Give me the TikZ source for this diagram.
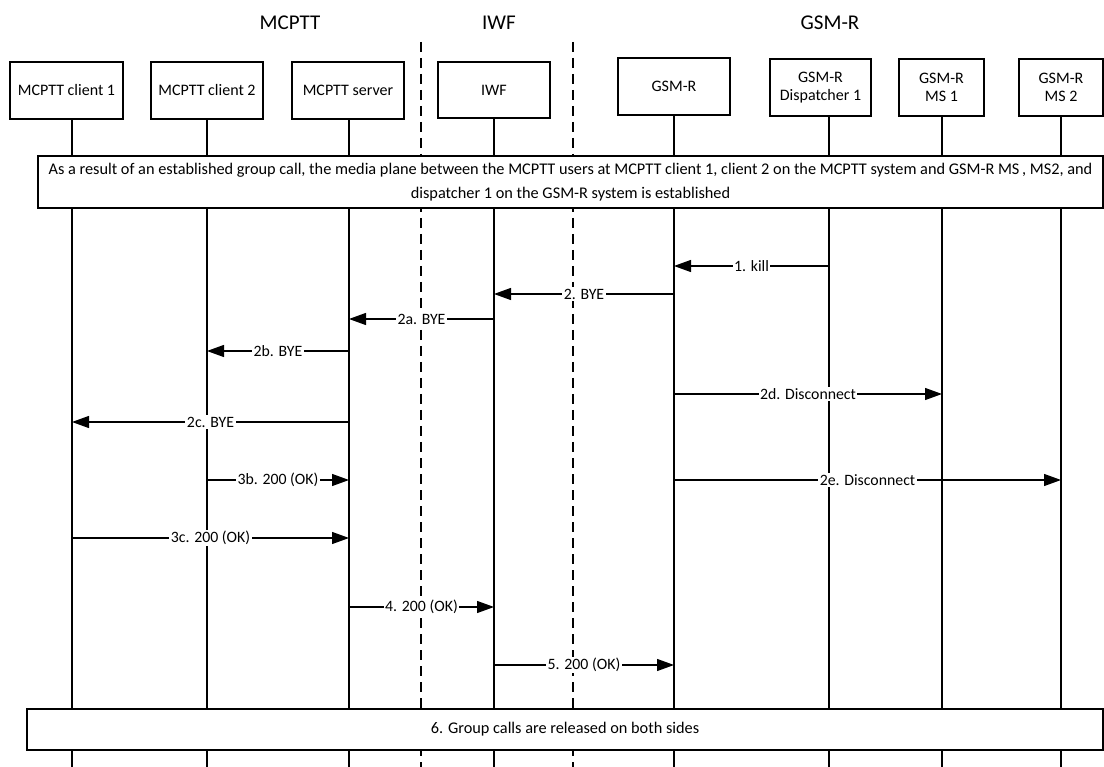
\documentclass[tikz,border=0pt]{standalone}
\usepackage{fontspec}
\setmainfont{Carlito}
\usetikzlibrary{arrows.meta,positioning}

\begin{document}
\begin{tikzpicture}[x=1pt,y=-1pt,line width=1.2pt,
                    main node/.style={rectangle,draw,fill=white,align=center,inner sep=2pt,
                                      font=\fontsize{16}{18}\selectfont},
                    note node/.style={rectangle,draw,fill=white,align=center,inner sep=2pt,
                                      font=\fontsize{16.3}{24}\selectfont},
                    title node/.style={font=\fontsize{21}{24}\selectfont},
                    border/.style={dash pattern=on 10pt off 6pt},
                    msg/.style={-{Triangle[length=17pt,width=12pt]}},
                    msg label/.style={fill=white,inner sep=1.5pt,font=\fontsize{15.8}{17}\selectfont}]

\useasboundingbox (0,0) rectangle (1104,767);

%DRAWING domain titles and borders

 \node[title node] (TitleMCPTT) at (290,23) {MCPTT};
 \node[title node] (TitleIWF) at (499,23) {IWF};
 \node[title node] (TitleGSMR) at (830,23) {GSM-R};

 \coordinate (BorderTop1) at (421,42);
 \coordinate (BorderEnd1) at (421,767);
 \coordinate (BorderTop2) at (573,42);
 \coordinate (BorderEnd2) at (573,767);
 \draw[border] (BorderTop1)--(BorderEnd1);
 \draw[border] (BorderTop2)--(BorderEnd2);

%Inserting entities

 \node[main node,minimum width=113pt,minimum height=57pt] (C1) at (66.5,90.5) {MCPTT client 1};
 \node[main node,minimum width=112pt,minimum height=57pt] (C2) at (207,90.5) {MCPTT client 2};
 \node[main node,minimum width=112pt,minimum height=57pt] (Srv) at (348,90.5) {MCPTT server};
 \node[main node,minimum width=112pt,minimum height=56pt] (IWF) at (494,90) {IWF};
 \node[main node,minimum width=112pt,minimum height=57pt] (GSM) at (674,86.5) {GSM-R};
 \node[main node,minimum width=101pt,minimum height=57pt] (Disp) at (820.5,87.5) {GSM-R\\Dispatcher 1};
 \node[main node,minimum width=85pt,minimum height=57pt] (MS1) at (941.5,87.5) {GSM-R\\MS 1};
 \node[main node,minimum width=84pt,minimum height=57pt] (MS2) at (1061,87.5) {GSM-R\\MS 2};

 \foreach \n/\lx in {C1/72,C2/207,Srv/349,IWF/494,GSM/674,Disp/829,MS1/942,MS2/1061}
 {\coordinate (Life\n) at (\lx,767);
  \draw (\n.south -| Life\n)--(Life\n);}

%Inserting notes

 \node[note node,minimum width=1065pt,minimum height=52pt] (NoteStart) at (570.5,182)
   {As a result of an established group call, the media plane between the MCPTT users at MCPTT client 1, client 2 on the MCPTT system and GSM-R MS\,, MS2, and\\
    dispatcher 1 on the GSM-R system is established};

 \node[note node,minimum width=1076pt,minimum height=41pt] (NoteEnd) at (565,729.5)
   {6. Group calls are released on both sides};

%Inserting messages

 \foreach \a/\b/\y/\lab in {Disp/GSM/266/1. kill,
                            GSM/IWF/294/2. BYE,
                            IWF/Srv/319/2a. BYE,
                            Srv/C2/351/2b. BYE,
                            GSM/MS1/394/2d. Disconnect,
                            Srv/C1/422/2c. BYE,
                            C2/Srv/480/3b. 200 (OK),
                            GSM/MS2/480/2e. Disconnect,
                            C1/Srv/538/3c. 200 (OK),
                            Srv/IWF/607/4. 200 (OK),
                            IWF/GSM/665/5. 200 (OK)}
 {\draw[msg] (Life\a |- 0,\y)--node[msg label] (Msg\y\a) {\lab} (Life\b |- 0,\y);}

\end{tikzpicture}
\end{document}
